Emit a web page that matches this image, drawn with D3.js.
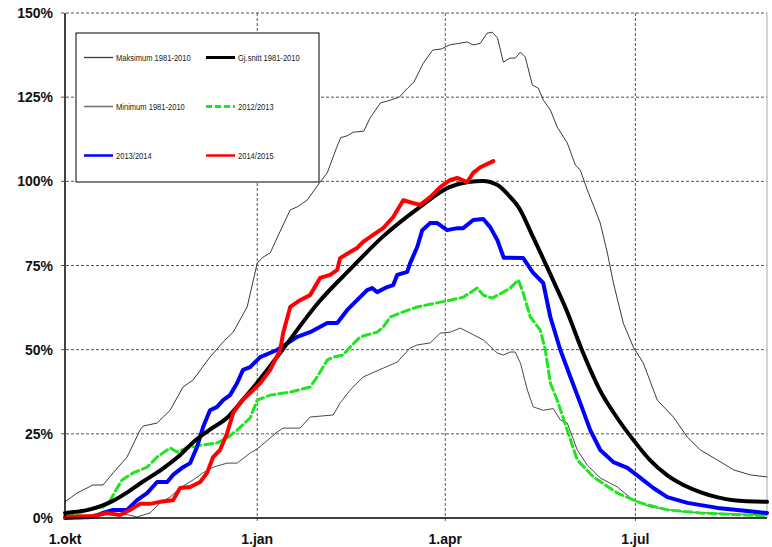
<!DOCTYPE html>
<html lang="no">
<head>
<meta charset="UTF-8">
<title>Snømagasin</title>
<script src="https://d3js.org/d3.v7.min.js"></script>
<style>
    html, body { margin: 0; padding: 0; background: #fff; }
    .grid line { stroke: #555; stroke-dasharray: 3,2; }
    .tick-label { font-family: "Liberation Sans", Arial, sans-serif; font-weight: bold; font-size: 14px; fill: #111; }
    .legend text { font-family: "Liberation Sans", Arial, sans-serif; font-size: 9px; fill: #222; }
    .line { fill: none; stroke-linejoin: round; stroke-linecap: round; }
</style>
</head>
<body>
<div id="chart"></div>
<script>

    // x = days after 1. oktober, y = percent of normal max
    var tickDays = [0, 92, 182, 273];
    var tickNames = ["1.okt", "1.jan", "1.apr", "1.jul"];
    var yTicks = [0, 25, 50, 75, 100, 125, 150];

    var maxDays = [0, 5.7, 13.4, 18.2, 23, 29.7, 35.9, 37.4, 44.1, 50.3, 56.5, 61.3, 69.4, 75.7, 80.5, 87.2, 92, 94.8, 98.2, 101.5, 107.8, 111.1, 115.9, 122.1, 125.5, 130, 132, 135, 138, 143, 146, 151, 154, 160, 164, 167, 171.5, 176, 180, 184, 192.5, 195.4, 198.8, 202, 204.5, 207, 209.8, 213, 215.5, 218, 220.3, 223.7, 226.5, 229, 232.3, 235.6, 240.4, 244.3, 246.6, 250, 253.8, 256.2, 259.6, 262.5, 267.2, 272, 276.8, 283.5, 291.2, 297.9, 304.1, 312.3, 320, 328, 336];
    var maxVals = [4.8, 7.4, 9.8, 9.8, 13.4, 18.1, 26.1, 27.3, 28.2, 32, 38.9, 41, 47.8, 52.3, 55.2, 62.7, 75.7, 77.5, 78.7, 83.2, 91.5, 92.4, 94.4, 99.8, 102.5, 110, 113, 113.5, 114.6, 114.9, 118.8, 123.3, 123.8, 125, 127.7, 129.5, 135.1, 139, 139.3, 140.5, 141.4, 140.5, 141, 144, 144.3, 142.6, 135.4, 136.6, 136.6, 138.4, 136.9, 128.6, 127.7, 124.1, 121.2, 116.1, 111.4, 104.8, 103.4, 97.4, 91.5, 87.6, 78.7, 69.8, 57.9, 50.8, 46, 35, 30, 24, 20.2, 17.2, 14.3, 12.8, 12.2];

    var minDays = [0, 20, 30, 34.5, 40.7, 45.5, 50.3, 55, 61.3, 66, 71, 77.6, 82.4, 88.6, 92, 101.5, 104.4, 112.5, 117.3, 128.4, 131.7, 136.5, 142.7, 152.3, 159, 165.2, 168.6, 174.8, 179.6, 184.4, 189.2, 194, 200.2, 206.9, 209.8, 213, 215.5, 218, 221.3, 224.1, 228.9, 233.7, 237.1, 240.4, 245.2, 250, 256.2, 264.4, 272, 280.2, 296, 320, 336];
    var minVals = [0.3, 1, 1, 0.3, 1.5, 4.5, 6.2, 8.9, 11.3, 13.4, 15.1, 16.3, 16.3, 19.3, 20.5, 25.5, 26.7, 26.7, 30, 30.6, 34.2, 38, 41.9, 44.5, 46.3, 50.5, 51.4, 52, 54.9, 55.2, 56.4, 54.9, 52.9, 49, 48.4, 49.3, 49.3, 46, 38, 33, 32, 32.5, 29.1, 28.2, 20.2, 15.7, 11.9, 9.2, 5.3, 3.3, 1.8, 1.2, 0.9];

    var avgDays = [0, 13, 22, 30, 37, 46, 54, 61, 69, 78, 85, 93, 104, 121, 137, 152, 169, 184, 193, 200, 207, 213, 217, 224, 232, 240, 248, 256, 264, 272, 280, 288, 296, 304, 312, 320, 336];
    var avgVals = [1.5, 2.7, 4.8, 7.7, 10.7, 14.3, 18.1, 22.3, 26.1, 30, 35, 41, 49.9, 63.8, 74.2, 83.5, 92, 98.3, 99.8, 100.1, 98.9, 95.4, 92.4, 83.5, 72.8, 61.8, 49, 38, 30, 23.2, 17.2, 12.8, 9.8, 7.7, 6.2, 5.3, 4.8];

    var y1213Days = [0, 7.2, 13.4, 18.2, 21, 24.4, 27.3, 32.6, 39.3, 44.1, 50.3, 53.6, 58.4, 66.1, 72.8, 77.6, 82.4, 88.6, 92, 98.2, 107.8, 117.3, 120.7, 125.5, 128.4, 133.1, 136.5, 141.3, 149.4, 152.3, 155.7, 160.4, 168.6, 178.2, 184.4, 190.6, 197.3, 200.2, 204.5, 209.8, 213.1, 217, 219.3, 222.7, 227.5, 229.9, 232.3, 235.6, 240.4, 245.2, 252.9, 264.4, 275.4, 288.3, 304.1, 336];
    var y1213Vals = [0.6, 1.5, 3, 3.3, 4.5, 8.3, 11.3, 13.4, 15.1, 18.1, 20.8, 19.6, 20.8, 21.7, 22.3, 23.8, 26.1, 29.7, 35, 36.5, 37.4, 38.9, 41.9, 46.9, 47.8, 48.4, 50.8, 53.8, 55.2, 56.7, 59.7, 60.9, 62.7, 63.9, 64.7, 65.6, 68.3, 66.2, 65.3, 67.1, 68.3, 70.7, 66.8, 59.7, 55.8, 49.9, 40.1, 35, 26.1, 17.2, 12.2, 7.4, 4.5, 2.4, 1.5, 0.6];

    var y1314Days = [0, 13.4, 18.2, 23, 29.7, 34.5, 39.3, 44.1, 48.9, 51.7, 56.5, 59.9, 63.2, 66.1, 69.4, 72.8, 75.7, 79, 82.4, 85.2, 88.6, 93.4, 101.5, 111.1, 117.3, 125.5, 130.3, 135.1, 139.8, 144.6, 147, 149.4, 154.2, 157.1, 159, 163.8, 165.2, 168.6, 171, 174.8, 178.2, 182.9, 187.7, 190.6, 195.4, 200.2, 203.5, 206.9, 210, 219.3, 224.1, 228.9, 232.3, 237.1, 241.9, 246.6, 251.4, 256.2, 262.5, 269.2, 275.4, 281.6, 288.3, 297.9, 312.3, 336];
    var y1314Vals = [0, 0.3, 1.5, 2.4, 2.4, 5.3, 7.4, 10.7, 10.7, 12.8, 15.1, 16.3, 21.1, 27, 32, 33, 35, 36.5, 40.1, 44, 44.8, 47.8, 49.9, 53.8, 55.2, 57.9, 57.9, 61.8, 64.7, 67.7, 68.3, 67.1, 68.6, 69.2, 72.2, 73.1, 75.7, 80.5, 85.5, 87.6, 87.6, 85.5, 86.1, 86.1, 88.5, 88.8, 86.4, 82.6, 77.3, 77.2, 72.8, 69.8, 59.7, 49.9, 41.9, 34.2, 26.1, 20.2, 16.6, 14.9, 11.9, 8.9, 6.2, 4.5, 3, 1.5];

    var y1415Days = [0, 13.4, 20.1, 26.3, 31.1, 35.9, 40.7, 45.5, 51.7, 55.1, 59.9, 64.7, 68, 70.9, 74.2, 77.6, 80.5, 84.8, 88.6, 93.4, 98.2, 103, 104.4, 107.8, 112.5, 117.3, 122.1, 126.9, 130.3, 131.7, 136.5, 139.8, 142.7, 149.4, 152.3, 157.1, 161.9, 165.2, 170, 174.8, 179.6, 184.4, 187.7, 192.5, 195.4, 198.8, 205];
    var y1415Vals = [0.3, 0.6, 1.5, 0.9, 2.4, 4.2, 4.2, 4.8, 5.3, 8.9, 9.2, 10.7, 13.4, 18.1, 20.2, 25.2, 31.2, 35, 37.1, 40, 44, 49.9, 54.9, 62.7, 64.7, 66.2, 71.3, 72.2, 73.7, 77.2, 79, 80.2, 82, 84.9, 86.1, 89.4, 94.4, 93.8, 93, 95.3, 98.3, 100.4, 101, 99.8, 102.5, 104.2, 106];

    var seriesNames = ["Maksimum 1981-2010", "Gj.snitt 1981-2010", "Minimum 1981-2010", "2012/2013", "2013/2014", "2014/2015"];

    var series = [
        {name: seriesNames[0], days: maxDays, vals: maxVals, color: "#3a3a3a", width: 1, dash: null, legW: 1.3},
        {name: seriesNames[2], days: minDays, vals: minVals, color: "#4a4a4a", width: 1, dash: null, legW: 1.6, legColor: "#777"},
        {name: seriesNames[3], days: y1213Days, vals: y1213Vals, color: "#1ee61e", width: 3, dash: "8,4", legW: 3},
        {name: seriesNames[4], days: y1314Days, vals: y1314Vals, color: "#0000ff", width: 4, dash: null, legW: 2.5},
        {name: seriesNames[1], days: avgDays, vals: avgVals, color: "#000000", width: 4, dash: null, legW: 3, smooth: true},
        {name: seriesNames[5], days: y1415Days, vals: y1415Vals, color: "#ff0000", width: 4, dash: null, legW: 2.5}
    ];

    var W = 772, H = 547;
    var margin = {top: 13, right: 5, bottom: 29, left: 65};
    var width = W - margin.left - margin.right,
        height = H - margin.top - margin.bottom;

    var x = d3.scaleLinear().domain([0, 336]).range([0, width]);
    var y = d3.scaleLinear().domain([0, 150]).range([height, 0]);

    var svg = d3.select("#chart").append("svg")
        .attr("width", W)
        .attr("height", H)
        .append("g")
        .attr("transform", "translate(" + margin.left + "," + margin.top + ")");

    // grid
    var grid = svg.append("g").attr("class", "grid");
    grid.selectAll("line.h").data(yTicks.filter(function(d){ return d > 0; })).enter().append("line")
        .attr("class", "h")
        .attr("x1", -4).attr("x2", width)
        .attr("y1", function(d){ return y(d); })
        .attr("y2", function(d){ return y(d); });
    grid.selectAll("line.v").data(tickDays.filter(function(d){ return d > 0; })).enter().append("line")
        .attr("class", "v")
        .attr("x1", function(d){ return x(d); })
        .attr("x2", function(d){ return x(d); })
        .attr("y1", 0).attr("y2", height + 4);

    // right border
    svg.append("line")
        .attr("x1", width).attr("x2", width)
        .attr("y1", 0).attr("y2", height)
        .attr("stroke", "#aaa");

    // lines
    series.forEach(function(s) {
        var pts = s.days.map(function(d, i){ return [d, s.vals[i]]; });
        var line = d3.line()
            .x(function(d){ return x(d[0]); })
            .y(function(d){ return y(d[1]); })
            .curve(s.smooth ? d3.curveMonotoneX : d3.curveLinear);
        svg.append("path")
            .datum(pts)
            .attr("class", "line")
            .attr("stroke", s.color)
            .attr("stroke-width", s.width)
            .attr("stroke-dasharray", s.dash)
            .attr("stroke-linecap", s.dash ? "butt" : "round")
            .attr("d", line);
    });

    // axes
    svg.append("line")
        .attr("x1", 0).attr("x2", 0).attr("y1", 0).attr("y2", height)
        .attr("stroke", "#000").attr("stroke-width", 1.5);
    svg.append("line")
        .attr("x1", 0).attr("x2", width).attr("y1", height).attr("y2", height)
        .attr("stroke", "#000").attr("stroke-width", 1.5);

    svg.selectAll("text.ylab").data(yTicks).enter().append("text")
        .attr("class", "tick-label")
        .attr("x", -12)
        .attr("y", function(d){ return y(d) + 5; })
        .attr("text-anchor", "end")
        .text(function(d){ return d + "%"; });

    svg.selectAll("text.xlab").data(tickDays).enter().append("text")
        .attr("class", "tick-label")
        .attr("x", function(d){ return x(d); })
        .attr("y", height + 26)
        .attr("text-anchor", "middle")
        .text(function(d, i){ return tickNames[i]; });

    // legend
    var legend = svg.append("g").attr("class", "legend")
        .attr("transform", "translate(" + (76 - margin.left) + "," + (33 - margin.top) + ")");
    legend.append("rect")
        .attr("width", 243).attr("height", 149)
        .attr("fill", "#fff").attr("stroke", "#000").attr("stroke-width", 1);

    var legOrder = [0, 4, 1, 2, 3, 5];
    legOrder.forEach(function(si, k) {
        var s = series[si];
        var col = k % 2, row = Math.floor(k / 2);
        var lx = 8 + col * 122, ly = 24.5 + row * 49;
        legend.append("line")
            .attr("x1", lx).attr("x2", lx + 29)
            .attr("y1", ly).attr("y2", ly)
            .attr("stroke", s.legColor || s.color)
            .attr("stroke-width", s.legW)
            .attr("stroke-dasharray", s.dash ? "6,3" : null);
        // narrow text like the original
        legend.append("text")
            .attr("transform", "translate(" + (lx + 32) + "," + (ly + 3.5) + ") scale(0.84,1)")
            .text(s.name);
    });

</script>
</body>
</html>
